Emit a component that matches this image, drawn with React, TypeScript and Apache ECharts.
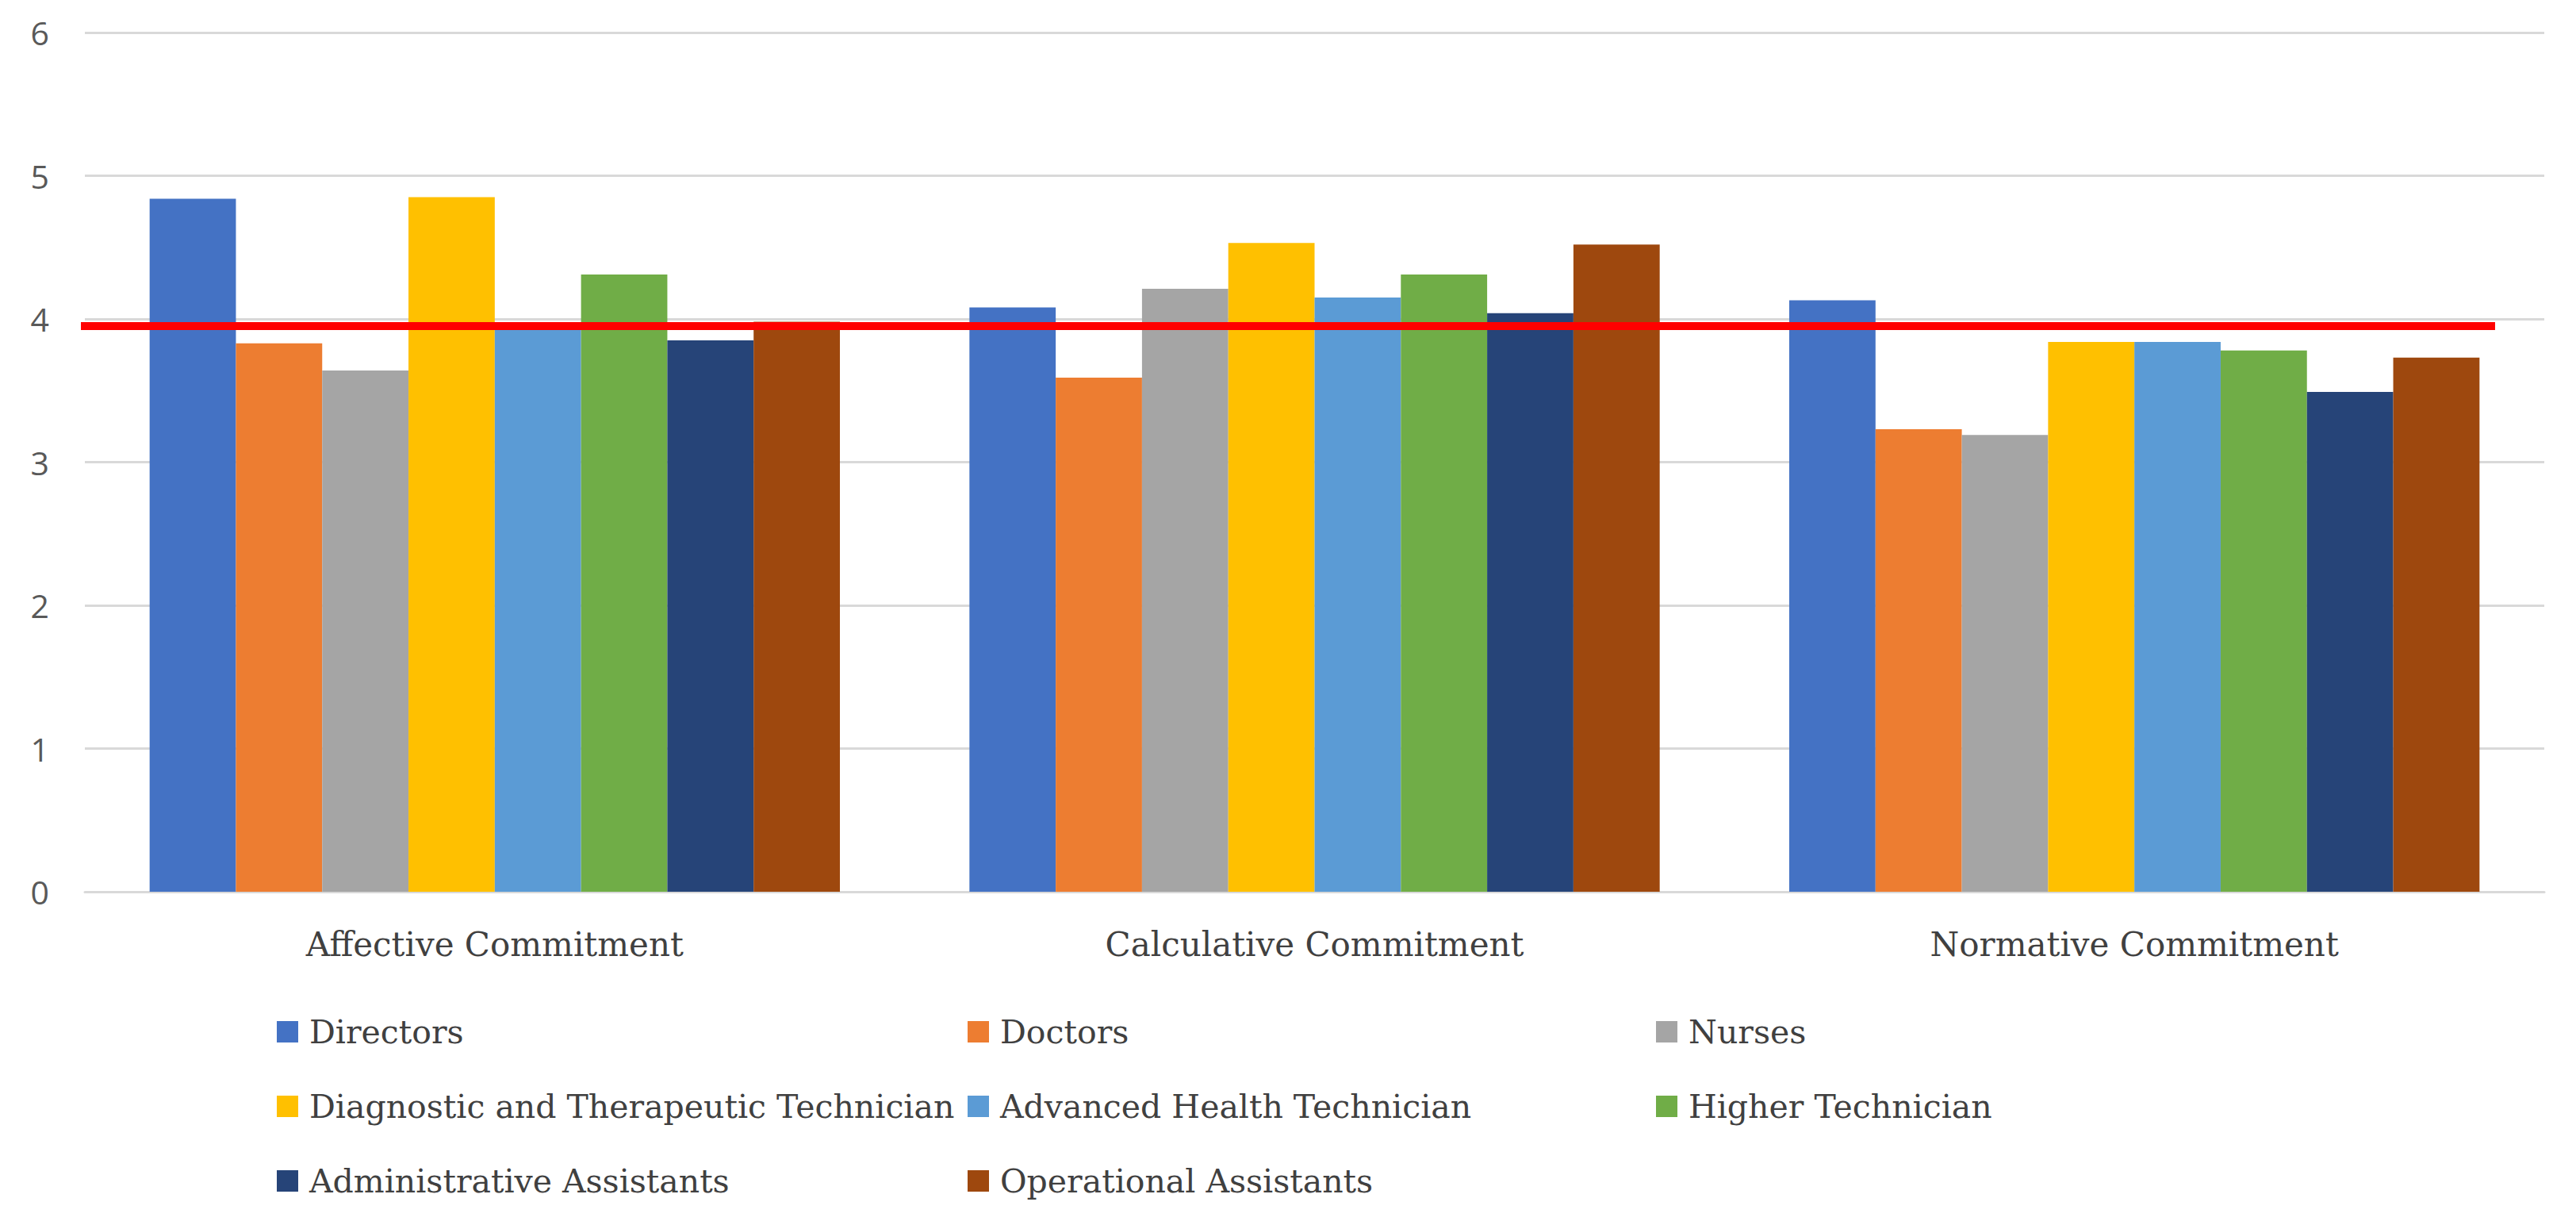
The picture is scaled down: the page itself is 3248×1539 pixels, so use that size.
import React, { useEffect, useRef } from "react";
import * as echarts from "echarts";

const categories = ["Affective Commitment", "Calculative Commitment", "Normative Commitment"];
const seriesNames = [
  "Directors",
  "Doctors",
  "Nurses",
  "Diagnostic and Therapeutic Technician",
  "Advanced Health Technician",
  "Higher Technician",
  "Administrative Assistants",
  "Operational Assistants",
];
const directors = [4.84, 4.08, 4.13];
const doctors = [3.83, 3.59, 3.23];
const nurses = [3.64, 4.21, 3.19];
const diagnostic = [4.85, 4.53, 3.84];
const advanced = [3.94, 4.15, 3.84];
const higher = [4.31, 4.31, 3.78];
const administrative = [3.85, 4.04, 3.49];
const operational = [3.98, 4.52, 3.73];
const seriesValues = [directors, doctors, nurses, diagnostic, advanced, higher, administrative, operational];
const colors = ["#4472C4", "#ED7D31", "#A5A5A5", "#FFC000", "#5B9BD5", "#70AD47", "#264478", "#9E480E"];
const yTicks = [0, 1, 2, 3, 4, 5, 6];
const meanValue = 3.95;
const meanLineSpan = [-0.01, 2.94];

const legendColumns = [
  [seriesNames[0], seriesNames[3], seriesNames[6]],
  [seriesNames[1], seriesNames[4], seriesNames[7]],
  [seriesNames[2], seriesNames[5]],
];
const legendLefts = [349, 1220, 2088];

export default function App() {
  const ref = useRef<HTMLDivElement>(null);
  useEffect(() => {
    document.body.style.margin = "0";
    if (!ref.current) return;
    const chart = echarts.init(ref.current, null, { renderer: "svg" });
    const serif = "DejaVu Serif";
    const option: any = {
      animation: false,
      backgroundColor: "#ffffff",
      grid: { left: 107, right: 40, top: 41, bottom: 415, containLabel: false },
      xAxis: [
        {
          type: "category",
          data: categories,
          axisTick: { show: false },
          axisLine: { show: true, lineStyle: { color: "#d9d9d9", width: 3 } },
          axisLabel: { color: "#404040", fontFamily: serif, fontSize: 42, margin: 45 },
          splitLine: { show: false },
        },
        {
          type: "value",
          min: 0,
          max: 3,
          show: false,
        },
      ],
      yAxis: {
        type: "value",
        min: yTicks[0],
        max: yTicks[yTicks.length - 1],
        interval: 1,
        axisLine: { show: false },
        axisTick: { show: false },
        axisLabel: { color: "#595959", fontFamily: "Open Sans", fontSize: 41, margin: 45 },
        splitLine: { lineStyle: { color: "#d9d9d9", width: 3 } },
      },
      legend: legendColumns.map((col, i) => ({
        data: col,
        orient: "vertical",
        left: legendLefts[i],
        top: 1280,
        padding: 0,
        itemGap: 53,
        itemWidth: 27,
        itemHeight: 27,
        icon: "rect",
        selectedMode: false,
        textStyle: {
          color: "#404040",
          fontFamily: serif,
          fontSize: 41,
          lineHeight: 40,
          padding: [0, 0, 0, 9],
        },
      })),
      series: [
        ...seriesNames.map((name, i) => ({
          name,
          type: "bar",
          xAxisIndex: 0,
          yAxisIndex: 0,
          data: seriesValues[i],
          barGap: "0%",
          barCategoryGap: "15.8%",
          itemStyle: { color: colors[i] },
        })),
        {
          name: "Mean",
          type: "line",
          xAxisIndex: 1,
          yAxisIndex: 0,
          data: [
            [meanLineSpan[0], meanValue],
            [meanLineSpan[1], meanValue],
          ],
          symbol: "none",
          clip: false,
          z: 10,
          lineStyle: { color: "#ff0000", width: 10 },
          itemStyle: { color: "#ff0000" },
        },
      ],
    };
    chart.setOption(option);
    return () => chart.dispose();
  }, []);
  return <div ref={ref} style={{ width: 3248, height: 1539 }} />;
}
